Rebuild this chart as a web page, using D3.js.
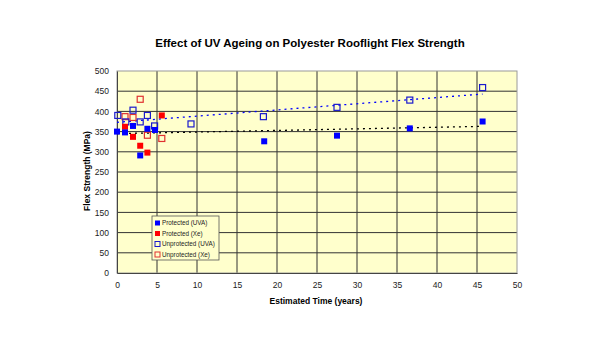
<!DOCTYPE html>
<html>
<head>
<meta charset="utf-8">
<script src="https://cdn.jsdelivr.net/npm/d3@7"></script>
<style>
  body { margin: 0; background: #fff; }
  svg { display: block; font-family: "Liberation Sans", Arial, sans-serif; }
</style>
</head>
<body>
<svg width="600" height="337"></svg>
<script>
// Data: [years, MPa]
const protectedUVA = [[0, 350], [1, 348], [2, 364], [2.9, 291], [3.8, 357], [4.75, 354],
                      [18.4, 326], [27.5, 340], [36.6, 358], [45.7, 375]];
const protectedXe = [[1, 362], [2, 337], [2.9, 315], [3.8, 298], [5.6, 390]];
const unprotectedUVA = [[0.1, 390], [1.1, 374], [2, 403], [2.9, 374], [3.8, 390], [4.7, 364],
                        [9.25, 369], [18.3, 387], [27.5, 410], [36.6, 428], [45.7, 459]];
const unprotectedXe = [[2.9, 430], [1, 387], [2, 385], [3.8, 341], [5.6, 333]];
// trendlines (start / end)
const trendProtectedUVA = [[0, 345], [45.7, 363]];
const trendUnprotectedUVA = [[0, 373], [45.7, 443]];

const xTicks = d3.range(0, 51, 5);
const yTicks = d3.range(0, 501, 50);

const svg = d3.select("svg");
const margin = {left: 117, right: 83, top: 71, bottom: 64};
const width = 600 - margin.left - margin.right;
const height = 337 - margin.top - margin.bottom;

let x = d3.scaleLinear().domain([0, 50]).range([0, width]);
let y = d3.scaleLinear().domain([0, 500]).range([height, 0]);

let g = svg.append("g")
    .attr("transform", "translate(" + margin.left + "," + margin.top + ")");

// plot background
g.append("rect")
    .attr("width", width).attr("height", height)
    .attr("fill", "#ffffcc");

// gridlines
g.append("g").selectAll("line.h")
    .data(yTicks.slice(1, -1)).enter().append("line")
    .attr("x1", 0).attr("x2", width)
    .attr("y1", d => y(d)).attr("y2", d => y(d))
    .attr("stroke", "#333").attr("stroke-width", 1);
g.append("g").selectAll("line.v")
    .data(xTicks.slice(1, -1)).enter().append("line")
    .attr("y1", 0).attr("y2", height)
    .attr("x1", d => x(d)).attr("x2", d => x(d))
    .attr("stroke", "#333").attr("stroke-width", 1);

// plot border
g.append("rect")
    .attr("width", width).attr("height", height)
    .attr("fill", "none").attr("stroke", "#9a9a9a").attr("stroke-width", 1);

// axes
let xAxis = g.append("g")
    .attr("transform", "translate(0," + height + ")")
    .call(d3.axisBottom(x).tickValues(xTicks).tickSize(0).tickPadding(9));
let yAxis = g.append("g")
    .call(d3.axisLeft(y).tickValues(yTicks).tickSize(0).tickPadding(8));
[xAxis, yAxis].forEach(a => {
  a.select(".domain").attr("stroke", "#444");
  a.selectAll("text").attr("font-size", "8.5px").attr("fill", "#222")
      .attr("font-family", "Liberation Sans, Arial, sans-serif");
});

// trendlines
let line = d3.line().x(d => x(d[0])).y(d => y(d[1]));
g.append("path").datum(trendProtectedUVA)
    .attr("d", line).attr("fill", "none")
    .attr("stroke", "#000").attr("stroke-width", 1.3).attr("stroke-dasharray", "2,4");
g.append("path").datum(trendUnprotectedUVA)
    .attr("d", line).attr("fill", "none")
    .attr("stroke", "#0000ff").attr("stroke-width", 1.3).attr("stroke-dasharray", "2,4");

// markers
const s = 6;
function squares(data, fill, stroke) {
  g.append("g").selectAll("rect")
      .data(data).enter().append("rect")
      .attr("x", d => x(d[0]) - s / 2)
      .attr("y", d => y(d[1]) - s / 2)
      .attr("width", s).attr("height", s)
      .attr("fill", fill)
      .attr("stroke", stroke)
      .attr("stroke-width", fill === "none" ? 1.2 : 0);
}
squares(unprotectedXe, "none", "#e03030");
squares(unprotectedUVA, "none", "#1a1acc");
squares(protectedXe, "#ff0000", "#ff0000");
squares(protectedUVA, "#0000ff", "#0000ff");

// legend
const legendItems = [
  {label: "Protected (UVA)", fill: "#0000ff", stroke: "#0000ff"},
  {label: "Protected (Xe)", fill: "#ff0000", stroke: "#ff0000"},
  {label: "Unprotected (UVA)", fill: "none", stroke: "#1a1acc"},
  {label: "Unprotected (Xe)", fill: "none", stroke: "#e03030"}
];
let legend = svg.append("g").attr("transform", "translate(152,216)");
legend.append("rect")
    .attr("width", 67).attr("height", 44)
    .attr("fill", "#ffffcc").attr("stroke", "#555").attr("stroke-width", 0.8);
let li = legend.selectAll("g.item").data(legendItems).enter().append("g")
    .attr("transform", (d, i) => "translate(3," + (7 + i * 10.5) + ")");
li.append("rect")
    .attr("x", 0).attr("y", -2.5).attr("width", 5).attr("height", 5)
    .attr("fill", d => d.fill).attr("stroke", d => d.stroke)
    .attr("stroke-width", d => d.fill === "none" ? 1 : 0);
li.append("text")
    .attr("x", 7).attr("y", 2.3)
    .attr("font-size", "6.3px").attr("fill", "#222")
    .text(d => d.label);

// titles
svg.append("text")
    .attr("x", 310).attr("y", 47)
    .attr("text-anchor", "middle")
    .attr("font-size", "11.5px").attr("font-weight", "bold")
    .text("Effect of UV Ageing on Polyester Rooflight Flex Strength");
svg.append("text")
    .attr("x", 316).attr("y", 304)
    .attr("text-anchor", "middle")
    .attr("font-size", "8.5px").attr("font-weight", "bold")
    .text("Estimated Time (years)");
svg.append("text")
    .attr("transform", "translate(90,171) rotate(-90)")
    .attr("text-anchor", "middle")
    .attr("font-size", "8.5px").attr("font-weight", "bold")
    .text("Flex Strength (MPa)");
</script>
</body>
</html>
